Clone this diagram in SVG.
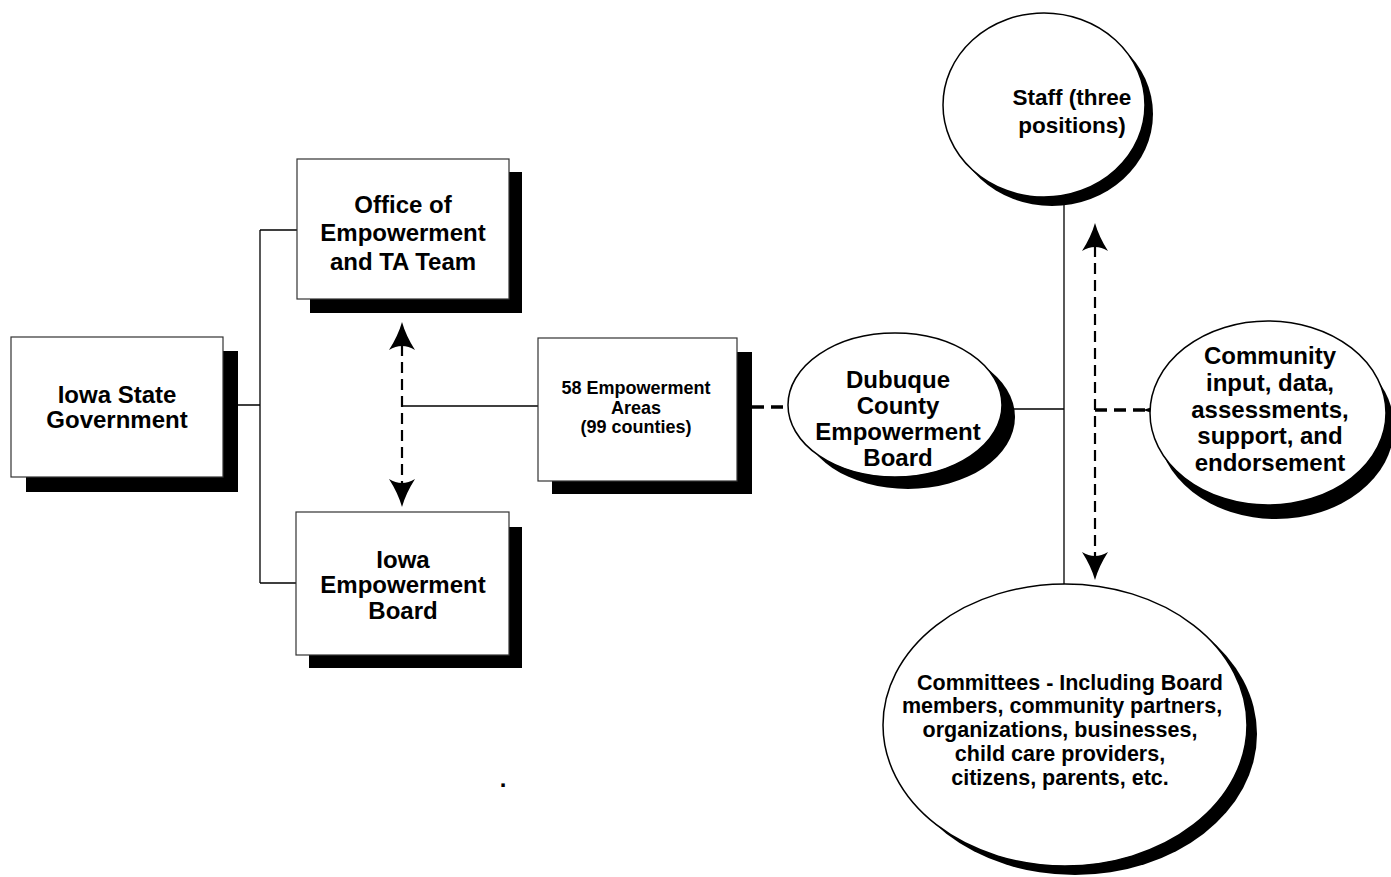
<svg xmlns="http://www.w3.org/2000/svg" xmlns:xlink="http://www.w3.org/1999/xlink" width="1391" height="877" viewBox="0 0 1391 877">
<style>
  .box { fill: #ffffff; stroke: #333333; stroke-width: 1.2; }
  .shadow { fill: #000000; }
  .ell { fill: #ffffff; stroke: #000000; stroke-width: 1.5; }
  .lbl { font-family: "Liberation Sans", Arial, sans-serif; font-weight: bold; fill: #000000; text-anchor: middle; }
  .big { font-size: 24px; }
  .staff { font-size: 22.5px; }
  .mid { font-size: 18px; }
  .sm { font-size: 21.5px; }
  .solid { fill: none; stroke: #000000; stroke-width: 1.3; }
  .dash { fill: none; stroke: #000000; stroke-width: 2.2; stroke-dasharray: 11 6; }
  .dashb { fill: none; stroke: #000000; stroke-width: 3.6; stroke-dasharray: 12 7; }
</style>
<defs>
  <path id="ah" d="M0,0 Q4,14 13,28 Q0,20 -13,28 Q-4,14 0,0 Z" fill="#000000"/>
</defs>
<rect width="1391" height="877" fill="#ffffff"/>

<g id="connectors">
  <path class="solid" d="M238,405 H260 M260,230 V583 M260,230 H297 M260,583 H296"/>
  <path class="solid" d="M402,406 H538"/>
  <path class="dash" d="M402,345 V485"/>
  <use xlink:href="#ah" transform="translate(402,322)"/>
  <use xlink:href="#ah" transform="translate(402,507) rotate(180)"/>
  <path class="dashb" d="M752,407 H788"/>
  <path class="solid" d="M1003,409 H1064 M1064,198 V585"/>
  <path class="dash" d="M1095,246 V556"/>
  <use xlink:href="#ah" transform="translate(1095,223)"/>
  <use xlink:href="#ah" transform="translate(1095,580) rotate(180)"/>
  <path class="dashb" d="M1095,410 H1146"/>
  <use xlink:href="#ah" transform="translate(1143,410) rotate(-90)"/>
</g>

<g id="node-iowa-state">
  <rect class="shadow" x="26" y="351" width="212" height="141"/>
  <rect class="box" x="11" y="337" width="212" height="140"/>
  <text class="lbl big" x="117" y="403">Iowa State</text>
  <text class="lbl big" x="117" y="428">Government</text>
</g>

<g id="node-office">
  <rect class="shadow" x="310" y="172" width="212" height="141"/>
  <rect class="box" x="297" y="159" width="212" height="140"/>
  <text class="lbl big" x="403" y="213">Office of</text>
  <text class="lbl big" x="403" y="241">Empowerment</text>
  <text class="lbl big" x="403" y="270">and TA Team</text>
</g>

<g id="node-iowa-board">
  <rect class="shadow" x="309" y="527" width="213" height="141"/>
  <rect class="box" x="296" y="512" width="213" height="143"/>
  <text class="lbl big" x="403" y="568">Iowa</text>
  <text class="lbl big" x="403" y="593">Empowerment</text>
  <text class="lbl big" x="403" y="619">Board</text>
</g>

<g id="node-58-areas">
  <rect class="shadow" x="552" y="352" width="200" height="142"/>
  <rect class="box" x="538" y="338" width="199" height="143"/>
  <text class="lbl mid" x="636" y="394">58 Empowerment</text>
  <text class="lbl mid" x="636" y="413.5">Areas</text>
  <text class="lbl mid" x="636" y="433">(99 counties)</text>
</g>

<g id="node-dubuque">
  <ellipse class="shadow" cx="908" cy="417" rx="107" ry="72"/>
  <ellipse class="ell" cx="895" cy="405" rx="107" ry="72"/>
  <text class="lbl big" x="898" y="388">Dubuque</text>
  <text class="lbl big" x="898" y="414">County</text>
  <text class="lbl big" x="898" y="440">Empowerment</text>
  <text class="lbl big" x="898" y="466">Board</text>
</g>

<g id="node-staff">
  <ellipse class="shadow" cx="1052" cy="114" rx="101" ry="92"/>
  <ellipse class="ell" cx="1044" cy="105" rx="101" ry="92"/>
  <text class="lbl staff" x="1072" y="105">Staff (three</text>
  <text class="lbl staff" x="1072" y="133">positions)</text>
</g>

<g id="node-community">
  <ellipse class="shadow" cx="1276" cy="427" rx="118" ry="92"/>
  <ellipse class="ell" cx="1268" cy="413" rx="118" ry="92"/>
  <text class="lbl big" x="1270" y="364">Community</text>
  <text class="lbl big" x="1270" y="391">input, data,</text>
  <text class="lbl big" x="1270" y="418">assessments,</text>
  <text class="lbl big" x="1270" y="444">support, and</text>
  <text class="lbl big" x="1270" y="471">endorsement</text>
</g>

<g id="node-committees">
  <ellipse class="shadow" cx="1075" cy="734" rx="182" ry="141"/>
  <ellipse class="ell" cx="1065" cy="725" rx="182" ry="141"/>
  <text class="lbl sm" x="1070" y="690">Committees - Including Board</text>
  <text class="lbl sm" x="1062" y="713">members, community partners,</text>
  <text class="lbl sm" x="1060" y="737">organizations, businesses,</text>
  <text class="lbl sm" x="1060" y="761">child care providers,</text>
  <text class="lbl sm" x="1060" y="785">citizens, parents, etc.</text>
</g>

<text class="lbl big" x="503" y="787">.</text>
</svg>
